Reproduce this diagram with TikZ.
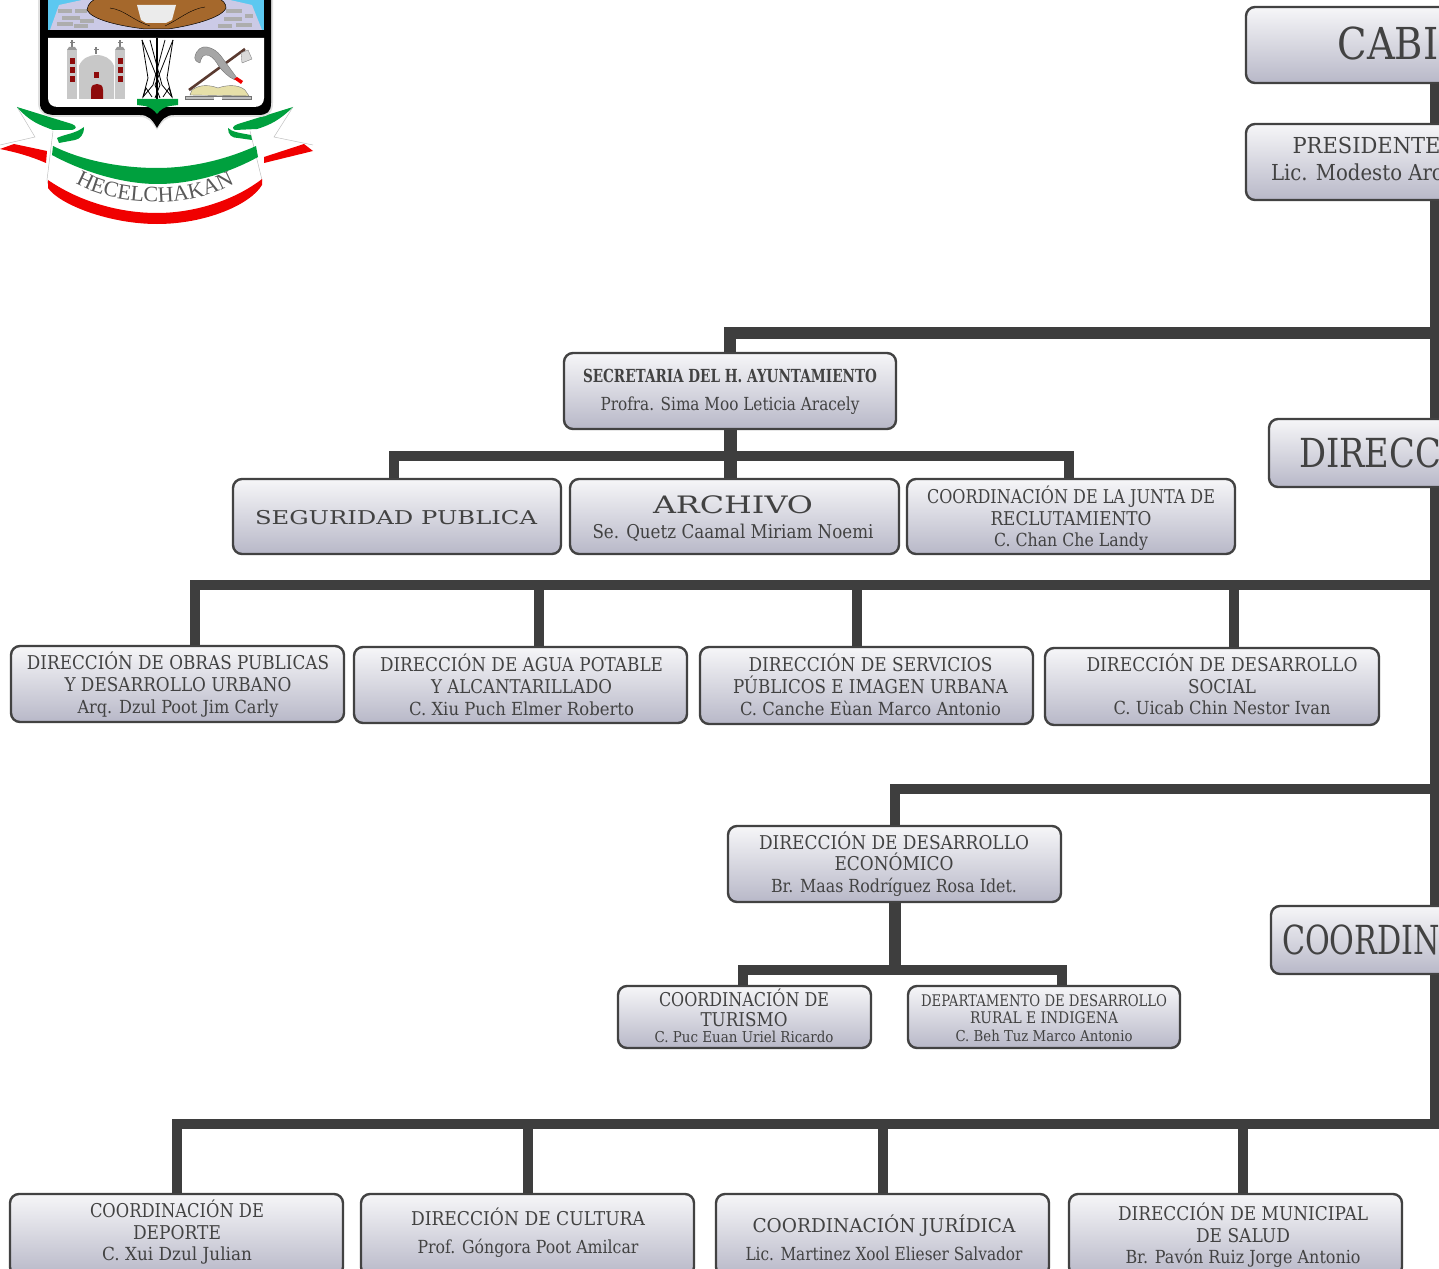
\documentclass[tikz,border=0pt]{standalone}
\usepackage{fontspec}
\usepackage{graphicx}
\setmainfont{DejaVu Serif}
\newfontfamily\ribbonfont{Liberation Serif}
\usetikzlibrary{backgrounds,decorations.text}
\definecolor{ink}{HTML}{424242}
\definecolor{conn}{HTML}{3E3E3E}
\definecolor{boxtop}{HTML}{F6F6F8}
\definecolor{boxbot}{HTML}{B8B8C8}
\definecolor{egreen}{HTML}{00A03E}
\definecolor{ered}{HTML}{F00000}
\definecolor{sky}{HTML}{5CC8F0}
\definecolor{pyr}{HTML}{CBCAE6}
\definecolor{brownf}{HTML}{A5682C}
\definecolor{church}{HTML}{C8C8C8}
\definecolor{dred}{HTML}{8E0B0B}
\definecolor{book}{HTML}{E6DFA8}
\definecolor{haft}{HTML}{5A3A30}
% one line, forced to a given width at a given size
\newcommand{\fitw}[3]{\sbox0{\fontsize{#2}{#2}\selectfont #3}%
  \pgfmathsetmacro\fx{#1/(\wd0/1pt)}\smash{\scalebox{\fx}[1]{\usebox0}}}
% text block: centre x, first baseline y, rows
\newcommand{\tl}[3]{\pgfmathsetlengthmacro\dxx{2*(#1-\bxcx)}\pgfmathsetlengthmacro\dyy{\bxcy-#2}%
  \makebox[0pt][c]{\hspace*{\dxx}\raisebox{\dyy}[0pt][0pt]{\fontsize{19}{22}\selectfont
  \begin{tabular}[t]{@{}c@{}}#3\end{tabular}}}}
\tikzset{
  orgbox/.style={draw=ink,line width=2.4pt,rounded corners=9pt,top color=boxtop,bottom color=boxbot,
    inner sep=0pt,outer sep=0pt,text=ink,anchor=center},
  link/.style={draw=conn,line width=10pt},
  biglink/.style={draw=conn,line width=13pt},
  thinrib/.style={draw=black!25,line width=.5pt},
}
\newcommand{\bx}[6]{\pgfmathsetmacro\bxcx{(#2+#4)/2}\pgfmathsetmacro\bxcy{(#3+#5)/2}%
  \pgfmathsetmacro\bxw{#4-#2}\pgfmathsetmacro\bxh{#5-#3}%
  \node[orgbox,minimum width=\bxw pt,minimum height=\bxh pt] (#1) at (\bxcx,\bxcy) {#6};}
\begin{document}
\begin{tikzpicture}[x=1pt,y=-1pt]
\useasboundingbox (0,0) rectangle (1439,1268);
\clip (0,0) rectangle (1439,1268);

% ---- boxes
\bx{cabi}{1246}{7}{1624}{83}{\tl{1388}{60}{\fitw{101}{44}{CABI}}}
\bx{pres}{1246}{124}{1624}{200}{\tl{1357}{153}{\hspace*{19pt}\fitw{148}{22}{PRESIDENTE}\\[6pt]\fitw{172}{22}{Lic. Modesto Arc}}}
\bx{direc}{1269}{419}{1601}{487}{\tl{1370}{467}{\fitw{142}{40}{DIRECC}}}
\bx{coord}{1271}{906}{1599}{974}{\tl{1361}{954}{\fitw{158}{40}{COORDIN}}}

\bx{sec}{564}{353}{896}{429}{\tl{730}{382}{\fitw{294}{18}{\bfseries SECRETARIA DEL H. AYUNTAMIENTO}\\[6pt]\fitw{259}{18}{Profra. Sima Moo Leticia Aracely}}}
\bx{seg}{233}{479}{561}{554}{\tl{396}{524}{\fitw{282}{19}{SEGURIDAD PUBLICA}}}
\bx{arch}{570}{479}{899}{554}{\tl{733}{513}{\fitw{160}{24}{ARCHIVO}\\[3pt]\fitw{281}{19}{Se. Quetz Caamal Miriam Noemi}}}
\bx{junta}{907}{479}{1235}{554}{\tl{1071}{503}{\fitw{288}{19}{COORDINACIÓN DE LA JUNTA DE}\\\fitw{161}{19}{RECLUTAMIENTO}\\[-1pt]\fitw{154}{18}{C. Chan Che Landy}}}

\bx{obras}{11}{646}{344}{722}{\tl{178}{669}{\fitw{302}{19}{DIRECCIÓN DE OBRAS PUBLICAS}\\\fitw{227}{19}{Y DESARROLLO URBANO}\\\fitw{201}{18}{Arq. Dzul Poot Jim Carly}}}
\bx{agua}{354}{647}{687}{723}{\tl{521.5}{671}{\fitw{283}{19}{DIRECCIÓN DE AGUA POTABLE}\\\fitw{181}{19}{Y ALCANTARILLADO}\\\fitw{225}{18}{C. Xiu Puch Elmer Roberto}}}
\bx{serv}{700}{647}{1033}{724}{\tl{870.5}{671}{\fitw{244}{19}{DIRECCIÓN DE SERVICIOS}\\\fitw{275}{19}{PÚBLICOS E IMAGEN URBANA}\\\fitw{261}{18}{C. Canche Eùan Marco Antonio}}}
\bx{soc}{1045}{648}{1379}{725}{\tl{1222}{671}{\fitw{271}{19}{DIRECCIÓN DE DESARROLLO}\\\fitw{68}{19}{SOCIAL}\\[-1pt]\fitw{217}{18}{C. Uicab Chin Nestor Ivan}}}

\bx{econ}{728}{826}{1061}{902}{\tl{894}{849}{\fitw{270}{19}{DIRECCIÓN DE DESARROLLO}\\[-1pt]\fitw{119}{19}{ECONÓMICO}\\\fitw{246}{18}{Br. Maas Rodríguez Rosa Idet.}}}
\bx{tur}{618}{986}{871}{1048}{\tl{744}{1006}{\fitw{170}{19}{COORDINACIÓN DE}\\[-2pt]\fitw{87}{19}{TURISMO}\\[-6pt]\fitw{179}{15}{C. Puc Euan Uriel Ricardo}}}
\bx{rural}{908}{986}{1180}{1048}{\tl{1044}{1006}{\fitw{246}{16}{DEPARTAMENTO DE DESARROLLO}\\[-5pt]\fitw{148}{16}{RURAL E INDIGENA}\\[-4pt]\fitw{177}{15}{C. Beh Tuz Marco Antonio}}}

\bx{dep}{10}{1194}{343}{1276}{\tl{177}{1217}{\fitw{174}{19}{COORDINACIÓN DE}\\\fitw{88}{19}{DEPORTE}\\[-1pt]\fitw{150}{18}{C. Xui Dzul Julian}}}
\bx{cult}{361}{1194}{694}{1276}{\tl{528}{1225}{\fitw{234}{19}{DIRECCIÓN DE CULTURA}\\[6pt]\fitw{221}{18}{Prof. Góngora Poot Amilcar}}}
\bx{jur}{716}{1194}{1049}{1276}{\tl{884}{1232}{\fitw{263}{19}{COORDINACIÓN JURÍDICA}\\[6pt]\fitw{277}{18}{Lic. Martinez Xool Elieser Salvador}}}
\bx{salud}{1069}{1194}{1402}{1276}{\tl{1243}{1220}{\fitw{250}{19}{DIRECCIÓN DE MUNICIPAL}\\\fitw{94}{19}{DE SALUD}\\[-1pt]\fitw{235}{18}{Br. Pavón Ruiz Jorge Antonio}}}

% ---- connectors
\coordinate (j1) at (1435,333);
\coordinate (b1) at (730,456);
\coordinate (j2) at (1435,585);
\coordinate (j3) at (1435,789);
\coordinate (b3) at (895,970);
\coordinate (j4) at (1435,1124);
\begin{scope}[on background layer]
  \draw[link] (cabi) -- (pres);
  \draw[link,line cap=rect] (pres) -- (j4);
  \draw[link,line width=12pt] (sec.north) |- (j1);
  \draw[biglink] (sec.south) -- (b1) -- (b1 |- arch.north);
  \draw[link] ([xshift=-3pt]seg.north) |- (b1);
  \draw[link] ([xshift=-2pt]junta.north) |- (b1);
  \draw[link] ([xshift=17.5pt]obras.north) |- (j2);
  \draw[link] ([xshift=18.5pt]agua.north) |- (j2);
  \draw[link] ([xshift=-9.5pt]serv.north) |- (j2);
  \draw[link] ([xshift=22pt]soc.north) |- (j2);
  \draw[link] (econ.north -| b3) |- (j3);
  \draw[link,line width=12pt] (econ.south -| b3) -- (b3);
  \draw[link] ([xshift=-1.5pt]tur.north) |- (b3);
  \draw[link] ([xshift=18pt]rural.north) |- (b3);
  \draw[link] (dep.north) |- (j4);
  \draw[link] ([xshift=0.5pt]cult.north) |- (j4);
  \draw[link] ([xshift=.5pt]jur.north) |- (j4);
  \draw[link] ([xshift=7.5pt]salud.north) |- (j4);
\end{scope}

% ---- emblem: ribbon
\draw[thinrib] (17,107) -- (35,137) -- (0,145);
\draw[thinrib] (293,107) -- (274,137) -- (313,145);
\draw[thinrib] (53,131) -- (47,180) .. controls (48,190) and (60,197) .. (70,203);
\draw[thinrib] (250,131) -- (262,180) .. controls (262,190) and (250,197) .. (240,203);
\fill[egreen] (17,107) -- (72,124) .. controls (77,126) and (77,129) .. (72,130) -- (53,130) .. controls (40,125) and (30,122) .. cycle;
\fill[egreen] (84,127) .. controls (84,135) and (80,139) .. (75,140) -- (59,143) -- (57,138) .. controls (65,134) and (75,134) .. cycle;
\fill[egreen] (293,107) -- (238,124) .. controls (232,126) and (232,129) .. (235,130) -- (257,129) .. controls (270,125) and (280,120) .. cycle;
\fill[egreen] (228,128) .. controls (228,135) and (232,138) .. (238,138) -- (252,140) -- (251,135) .. controls (240,133) and (232,132) .. cycle;
\fill[ered] (0,149) -- (14,144) -- (47,151) -- (46,163) .. controls (30,156) and (15,152) .. cycle;
\fill[ered] (264,157) -- (304,144) -- (313,151) -- (264,163) -- cycle;
\fill[egreen] (53,146) .. controls (85,162) and (125,168) .. (157,168) .. controls (190,168) and (225,160) .. (256,146) -- (258,157) .. controls (225,175) and (190,184) .. (157,184) .. controls (125,184) and (85,173) .. (52,155) -- cycle;
\fill[ered] (48,180) .. controls (80,202) and (120,213) .. (157,213) .. controls (195,213) and (235,200) .. (262,179) -- (262,185) .. controls (250,205) and (205,224) .. (157,224) .. controls (110,224) and (60,205) .. (48,188) -- cycle;
\path[decorate,decoration={text along path,text align=center,
  text={|\fontsize{22}{22}\ribbonfont\color{black!65}|HECELCHAKAN}}]
  (76,184) .. controls (120,208) and (190,208) .. (234,184);

% ---- emblem: shield
\fill[black!12] (38,-5) -- (38,103) .. controls (38,113) and (46,117) .. (56,117) -- (140,117) .. controls (148,117) and (152,122) .. (157,130) .. controls (162,122) and (166,117) .. (174,117) -- (258,117) .. controls (268,117) and (273,113) .. (273,103) -- (273,-5) -- cycle;
\fill[black] (40,-5) -- (40,103) .. controls (40,112) and (46,115) .. (56,115) -- (140,115) .. controls (148,115) and (152,119) .. (157,128) .. controls (162,119) and (166,115) .. (174,115) -- (258,115) .. controls (267,115) and (271,112) .. (271,103) -- (271,-5) -- cycle;
\fill[white] (48,38) -- (48,98) .. controls (48,104) and (52,107) .. (58,107) -- (254,107) .. controls (260,107) and (264,104) .. (264,98) -- (264,38) -- cycle;
\fill[sky] (48,-5) rectangle (264,30);
\fill[pyr] (50,30) -- (59,5) -- (82,0) -- (230,0) -- (252,5) -- (262,30) -- cycle;
\foreach \px/\py/\pw in {58/9/14,62/16/18,57/22/16,75/9/12,80/19/14,74/24/14,226/9/16,224/17/18,236/23/16,218/24/14,245/14/8,120/1/14,100/3/10}
  \fill[black!32] (\px,\py) rectangle ++(\pw,4.5);
\draw[black,fill=brownf,line width=.5pt] (87,10) .. controls (88,3) and (92,0) .. (100,-3) -- (215,-3) .. controls (224,0) and (226,4) .. (226,8) .. controls (222,18) and (190,26) .. (168,29) -- (145,29) .. controls (120,26) and (92,20) .. cycle;
\draw[black,line width=.4pt] (110,8) .. controls (125,10) and (132,20) .. (150,26);
\draw[black,line width=.4pt] (205,7) .. controls (190,9) and (178,20) .. (165,26);
\fill[black!8] (137,5) -- (176,5) -- (172,20) -- (166,23) -- (146,23) -- (141,20) -- cycle;

% ---- emblem: church
\fill[church] (67,50) rectangle (77,99);
\fill[church] (115,50) rectangle (125,99);
\fill[church] (79,66) .. controls (82,58) and (90,55) .. (96,55) .. controls (104,55) and (111,58) .. (114,66) -- (114,99) -- (79,99) -- cycle;
\foreach \cx/\cy in {72/40,120/40,96/47}{
  \fill[black!50] (\cx-.7,\cy) rectangle (\cx+.7,\cy+7);
  \fill[black!50] (\cx-2.5,\cy+2) rectangle (\cx+2.5,\cy+3.2);
}
\fill[black!40] (67,50) -- (69,47) -- (75,47) -- (77,50) -- cycle;
\fill[black!40] (115,50) -- (117,47) -- (123,47) -- (125,50) -- cycle;
\foreach \wy in {58.5,67.5,76}{
  \fill[dred] (69.5,\wy) rectangle (75,\wy+6);
  \fill[dred] (117.5,\wy) rectangle (123,\wy+6);
}
\fill[dred] (93.5,72) rectangle (99,78);
\fill[dred] (91,99) -- (91,90) .. controls (91,85) and (94,84) .. (97,84) .. controls (100,84) and (103,85) .. (103,90) -- (103,99) -- cycle;

% ---- emblem: centre figure
\draw[black,line width=.8pt] (142,40) -- (148,78) -- (143,97) -- (153,85) -- (165,40);
\draw[black,line width=.8pt] (173,40) -- (167,78) -- (172,97) -- (162,85) -- (150,40);
\draw[black,line width=.8pt] (142,40) -- (160,85) -- (155,98);
\draw[black,line width=.8pt] (173,40) -- (155,85) -- (160,98);
\draw[black,line width=.8pt] (143,97) -- (146,88) -- (152,97);
\draw[black,line width=.8pt] (172,97) -- (169,88) -- (163,97);
\fill[black] (156.3,38) rectangle (158.3,99);
\fill[egreen] (137,99) -- (178,99) -- (178,105) -- (170,106) .. controls (164,107) and (160,110) .. (157,114) .. controls (154,110) and (150,107) .. (145,106) -- (137,105) -- cycle;

% ---- emblem: tools and book
\draw[haft,line width=2.6pt] (189,90) -- (245,49);
\fill[black!15,draw=black!55,line width=.3pt] (241,53) -- (248,50) -- (252,59) -- (242,63) -- cycle;
\fill[black!35,draw=black!60,line width=.3pt] (200,63) .. controls (196,62) and (194,59) .. (195,56) .. controls (197,49) and (202,46) .. (207,47) .. controls (213,48) and (218,52) .. (221,56) -- (237,78) -- (235,80) .. controls (228,77) and (222,71) .. (218,65) .. controls (214,58) and (210,55) .. (206,55) .. controls (203,55) and (201,58) .. (200,63) -- cycle;
\fill[ered] (234,79) -- (237,77) -- (243,81) -- (241,84) -- cycle;
\fill[book,draw=black!55,line width=.4pt] (190,95) -- (192,90) .. controls (200,84) and (210,85) .. (218,88) .. controls (226,85) and (238,84) .. (245,90) -- (249,96) -- cycle;
\fill[black!25,draw=black!55,line width=.4pt] (185,96) rectangle (251,99);
\fill[white] (214,97) rectangle (222,100);
\end{tikzpicture}
\end{document}
